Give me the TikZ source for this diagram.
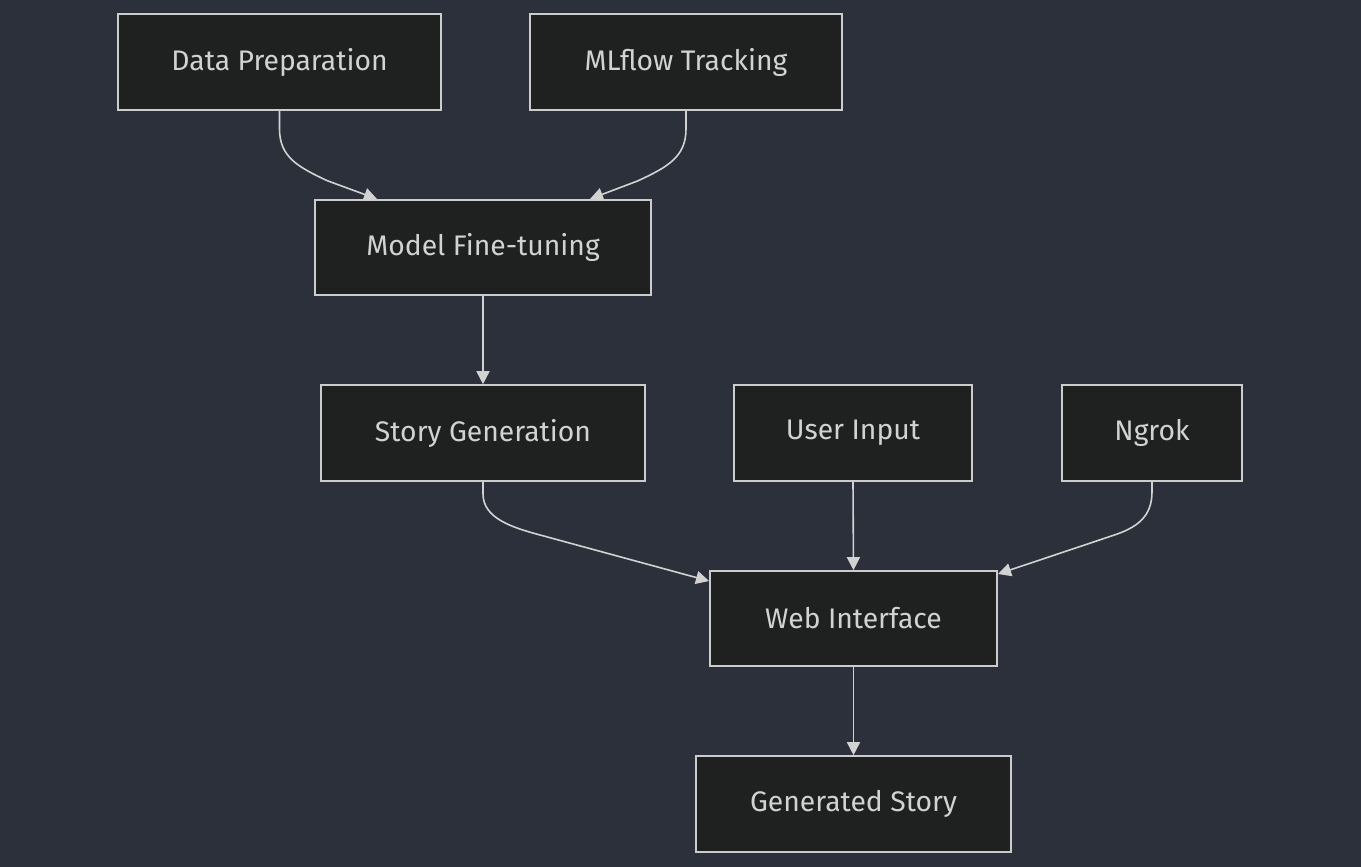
\documentclass[tikz,border=0pt]{standalone}
\usepackage{fontspec}
\setmainfont{Fira Sans}
\usetikzlibrary{arrows.meta}
\definecolor{bgc}{RGB}{43,48,59}
\definecolor{boxfill}{RGB}{31,32,32}
\definecolor{boxline}{RGB}{204,204,204}
\definecolor{txt}{RGB}{210,210,210}
\definecolor{edgec}{RGB}{210,210,210}
\newcommand{\lbl}[1]{\raisebox{-2pt}{#1}}
\begin{document}
\begin{tikzpicture}[x=1pt,y=-1pt,
  box/.style={draw=boxline,fill=boxfill,line width=1.6pt,inner sep=0pt,
    text=txt,font=\fontsize{28.3}{33}\selectfont},
  conn/.style={draw=edgec,line width=1.6pt,-{Triangle[length=13pt,width=13pt]}}]
\fill[bgc] (0,0) rectangle (1361,867);
\useasboundingbox (0,0) rectangle (1361,867);
\node[box,minimum width=323pt,minimum height=96pt] (dp) at (279.5,62) {\lbl{Data Preparation}};
\node[box,minimum width=312pt,minimum height=96pt] (ml) at (686,62) {\lbl{MLflow Tracking}};
\node[box,minimum width=336pt,minimum height=95pt] (mf) at (483,247.5) {\lbl{Model Fine-tuning}};
\node[box,minimum width=324pt,minimum height=96pt] (sg) at (483,433) {\lbl{Story Generation}};
\node[box,minimum width=238pt,minimum height=96pt] (ui) at (853,433) {\lbl{User Input}};
\node[box,minimum width=180pt,minimum height=96pt] (ng) at (1152,433) {\lbl{Ngrok}};
\node[box,minimum width=287pt,minimum height=95pt] (wi) at (853.5,618.5) {\lbl{Web Interface}};
\node[box,minimum width=315pt,minimum height=96pt] (gs) at (853.5,804) {\lbl{Generated Story}};
\coordinate (dpa) at (377,199);
\coordinate (mla) at (590,199);
\coordinate (sga) at (709,581);
\coordinate (nga) at (998,574);
\draw[conn] (dp.south) -- ++(0,18) .. controls ++(0,28) and ++(-30,-14) .. ++(48,52) -- (dpa);
\draw[conn] (ml.south) -- ++(0,18) .. controls ++(0,28) and ++(30,-14) .. ++(-48,52) -- (mla);
\draw[conn] (mf.south) -- (sg.north);
\draw[conn] (sg.south) -- ++(0,12) .. controls ++(0,25) and ++(-30,-8) .. ++(60,42) -- (sga);
\draw[conn] (ui.south) -- (wi.north);
\draw[conn] (ng.south) -- ++(0,10) .. controls ++(0,25) and ++(25,-8) .. ++(-40,44) -- (nga);
\draw[conn] (wi.south) -- (gs.north);
\end{tikzpicture}
\end{document}
